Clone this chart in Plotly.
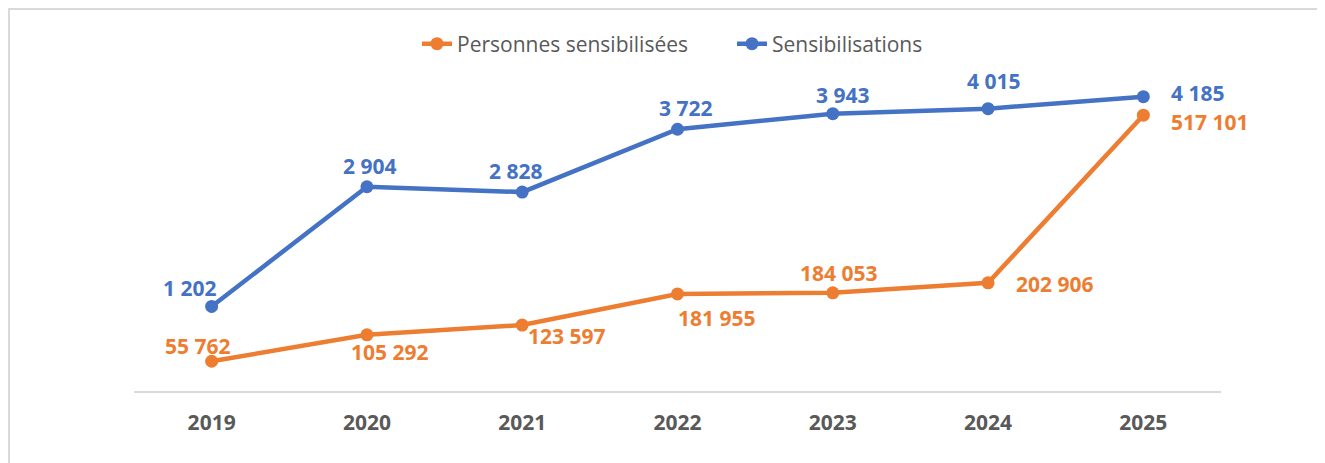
import plotly.graph_objects as go

years = ["2019", "2020", "2021", "2022", "2023", "2024", "2025"]
personnes = [55762, 105292, 123597, 181955, 184053, 202906, 517101]
sensibilisations = [1202, 2904, 2828, 3722, 3943, 4015, 4185]

# label offsets (pixels) – styling only
pers_dx = [-14, 23, 45, 39, 6, 67, 67]
pers_dy = [15, -17, -11, -24, 20, -1, -7]
sens_dx = [-22, 3, -7, 8, 10, 5, 54]
sens_dy = [18, 21, 21, 21, 19, 28, 4]

ORANGE = "#ED7D31"
BLUE = "#4472C4"
FONT = "Open Sans"

OFF = 8  # browser body margin
W, H = 1325, 463
ML, MR, MT, MB = 134 - OFF, 104 + OFF, 71 - OFF, 72 + OFF
PW, PH = W - ML - MR, H - MT - MB

def fmt(v):
    return f"{v:,}".replace(",", " ")

fig = go.Figure()
fig.add_trace(go.Scatter(
    x=years, y=personnes, name="Personnes sensibilisées", mode="lines+markers",
    line=dict(color=ORANGE, width=4.5), marker=dict(size=13, color=ORANGE),
    yaxis="y"))
fig.add_trace(go.Scatter(
    x=years, y=sensibilisations, name="Sensibilisations", mode="lines+markers",
    line=dict(color=BLUE, width=4.5), marker=dict(size=13, color=BLUE),
    yaxis="y2"))

ann = []
for i, y in enumerate(years):
    ann.append(dict(x=i, y=personnes[i], xref="x", yref="y", text=fmt(personnes[i]),
                    showarrow=False, xshift=pers_dx[i], yshift=pers_dy[i],
                    font=dict(family=FONT, size=21, color=ORANGE, weight="bold")))
    ann.append(dict(x=i, y=sensibilisations[i], xref="x", yref="y2", text=fmt(sensibilisations[i]),
                    showarrow=False, xshift=sens_dx[i], yshift=sens_dy[i],
                    font=dict(family=FONT, size=21, color=BLUE, weight="bold")))

# page pixel -> paper coordinates (figure is offset by body margin)
def px_x(p):
    return (p - OFF - ML) / PW

def px_y(p):
    return (H - MB - (p - OFF)) / PH

fig.update_layout(
    width=W, height=H,
    margin=dict(l=ML, r=MR, t=MT, b=MB),
    paper_bgcolor="white", plot_bgcolor="white",
    font=dict(family=FONT, color="#595959"),
    showlegend=True,
    legend=dict(orientation="h", x=px_x(417), xanchor="left", y=px_y(44),
                yanchor="middle", font=dict(size=21, color="#595959", family=FONT),
                entrywidth=270, entrywidthmode="pixels",
                bgcolor="rgba(0,0,0,0)"),
    xaxis=dict(type="category", range=[-0.5, 6.5], showgrid=False, zeroline=False,
               showline=True, linecolor="#D9D9D9", linewidth=2, ticks="",
               tickfont=dict(size=21, color="#595959", family=FONT, weight="bold"),
               ticklabelstandoff=12),
    yaxis=dict(range=[0, 600000], visible=False, showgrid=False),
    yaxis2=dict(range=[0, 4550], visible=False, showgrid=False, overlaying="y", side="right"),
    annotations=ann,
    shapes=[dict(type="rect", xref="paper", yref="paper", x0=px_x(9), x1=px_x(1322),
                 y0=px_y(480), y1=px_y(9),
                 line=dict(color="#D9D9D9", width=2), fillcolor="rgba(0,0,0,0)", layer="below")],
)

fig.write_html("out.html")
